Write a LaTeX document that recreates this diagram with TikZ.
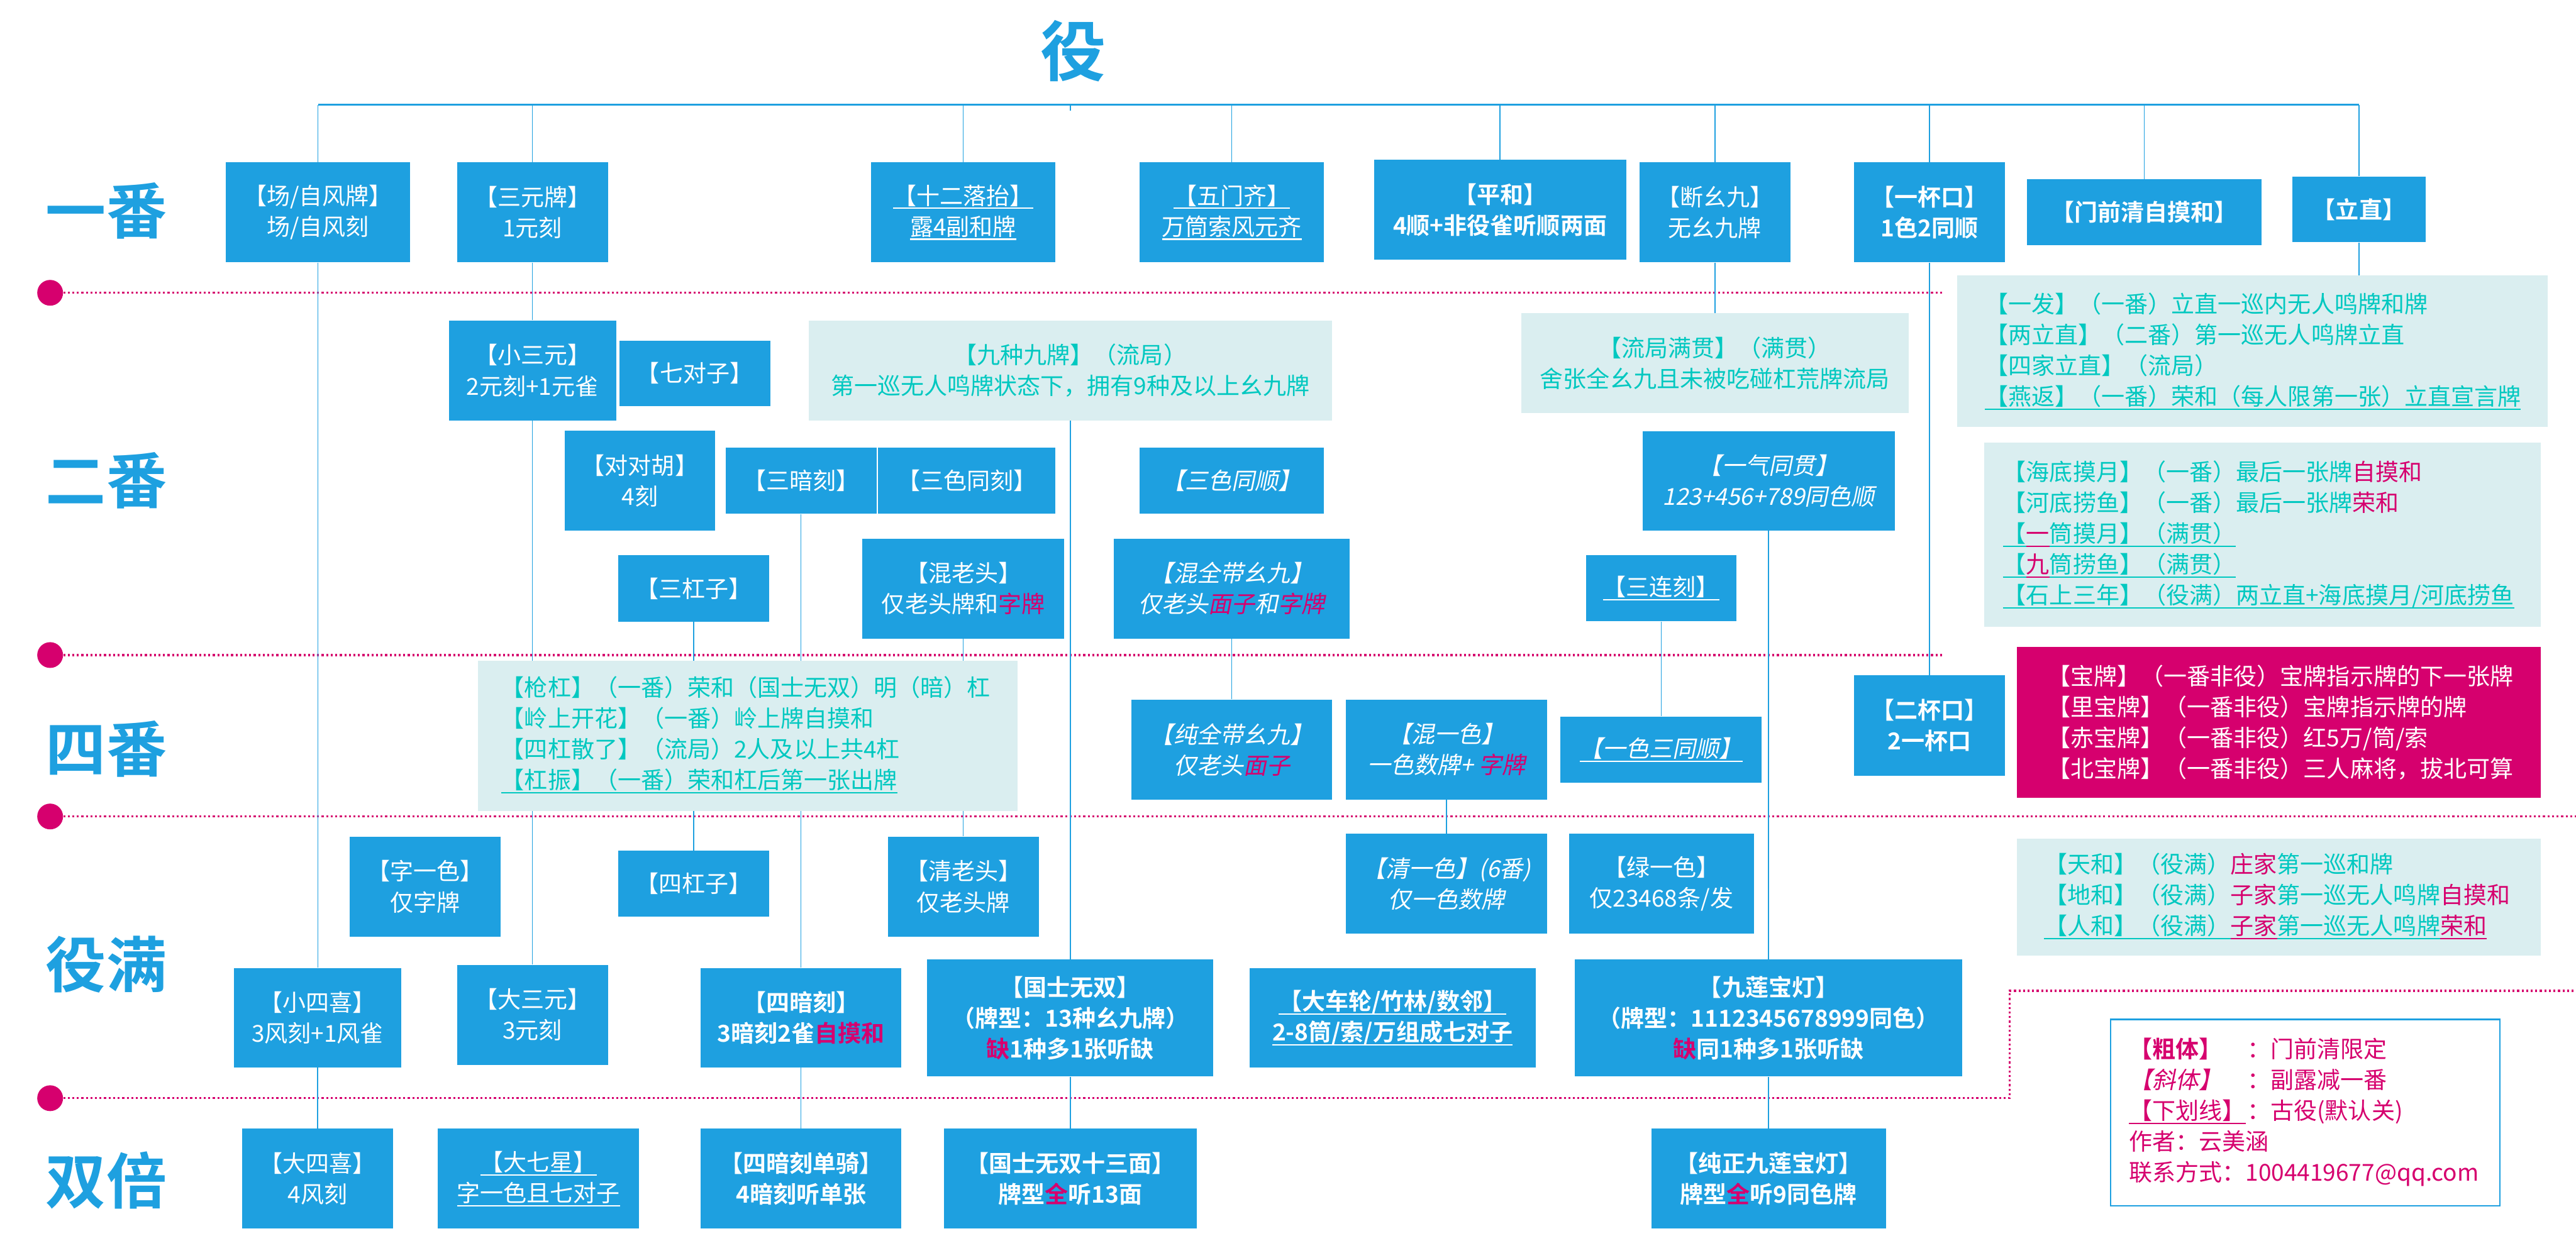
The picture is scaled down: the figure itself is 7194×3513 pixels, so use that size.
\documentclass[tikz,border=0pt]{standalone}
\usepackage{fontspec}
\setmainfont{Noto Sans CJK SC}[BoldFont={Noto Sans CJK SC Bold}, ItalicFont={Noto Sans CJK SC}, ItalicFeatures={FakeSlant=0.2}]
\usetikzlibrary{backgrounds}
\definecolor{ablue}{RGB}{30,160,224}
\definecolor{alight}{RGB}{218,238,240}
\definecolor{ateal}{RGB}{0,200,192}
\definecolor{amag}{RGB}{214,0,110}
\newcommand\fsz{\fontsize{18.5pt}{24.5pt}\selectfont}
\newcommand\mg[1]{\textcolor{amag}{#1}}
\newsavebox\ulbox
\newcommand\uln[1]{\sbox\ulbox{#1}\rlap{\rule[-0.2em]{\wd\ulbox}{0.055em}}\usebox\ulbox}
\begin{document}
\begin{tikzpicture}[x=0.01cm, y=-0.01cm,
    every node/.style={font=\fsz, inner sep=0pt},
    blk/.style={fill=ablue, text=white, align=center, minimum height=2.79cm},
    lowblk/.style={blk, minimum height=1.85cm},
    bblk/.style={blk, font=\fsz\bfseries},
    iblk/.style={blk, font=\fsz\itshape},
    lbox/.style={fill=alight},
    ltxt/.style={text=ateal, align=left, anchor=west},
    sep/.style={amag, dotted, line width=1.6pt},
    dotc/.style={circle, fill=amag, minimum size=0.72cm},
    link/.style={ablue, line width=0.8pt},
    rowlab/.style={text=ablue, font=\fontsize{48pt}{50pt}\selectfont\bfseries}]
    \useasboundingbox (0,0) rectangle (7194,3513);

    % 标题与番数
    \node[rowlab, font=\fontsize{52pt}{54pt}\selectfont\bfseries] (title) at (2997,143) {役};
    \node[rowlab] (r1) at (297,589) {一番};
    \node[rowlab] (r2) at (297,1342) {二番};
    \node[rowlab] (r4) at (297,2092) {四番};
    \node[rowlab] (ry) at (297,2695) {役满};
    \node[rowlab] (rs) at (297,3297) {双倍};

    \node[dotc] (d1) at (140,818) {};
    \node[dotc] (d2) at (140,1830) {};
    \node[dotc] (d3) at (140,2281) {};
    \node[dotc] (d4) at (140,3068) {};

    % 一番
    \node[blk, minimum width=5.14cm] (chang) at (888,593) {【场/自风牌】\\场/自风刻};
    \node[blk, minimum width=4.21cm] (sanyuan) at (1487,593) {【三元牌】\\1元刻};
    \node[blk, minimum width=5.15cm] (shier) at (2690,593) {\uln{【十二落抬】}\\\uln{露4副和牌}};
    \node[blk, minimum width=5.15cm] (wumen) at (3440,593) {\uln{【五门齐】}\\\uln{万筒索风元齐}};
    \node[bblk, minimum width=7.04cm] (pinghe) at (4189,586) {【平和】\\4顺+非役雀听顺两面};
    \node[blk, minimum width=4.22cm] (duanyao) at (4789,593) {【断幺九】\\无幺九牌};
    \node[bblk, minimum width=4.22cm] (yibei) at (5388,593) {【一杯口】\\1色2同顺};
    \node[bblk, minimum width=6.55cm, minimum height=1.84cm] (menqian) at (5988,593) {【门前清自摸和】};
    \node[bblk, minimum width=3.73cm, minimum height=1.84cm] (lizhi) at (6588,585) {【立直】};

    % 二番
    \node[blk, minimum width=4.67cm] (xsy) at (1487,1035) {【小三元】\\2元刻+1元雀};
    \node[lowblk, minimum width=4.21cm, minimum height=1.83cm] (qidui) at (1940,1043) {【七对子】};
    \node[lbox, text=ateal, align=center, minimum width=14.60cm, minimum height=2.79cm] (jiuzhong) at (2989,1035) {【九种九牌】（流局）\\第一巡无人鸣牌状态下，拥有9种及以上幺九牌};
    \node[lbox, text=ateal, align=center, minimum width=10.82cm, minimum height=2.78cm] (liuju) at (4789,1014) {【流局满贯】（满贯）\\舍张全幺九且未被吃碰杠荒牌流局};
    \node[blk, minimum width=4.20cm] (duidui) at (1787,1343) {【对对胡】\\4刻};
    \node[lowblk, minimum width=4.21cm] (sananke) at (2237,1343) {【三暗刻】};
    \node[lowblk, minimum width=4.95cm] (sanseke) at (2700,1343) {【三色同刻】};
    \node[iblk, minimum width=5.15cm, minimum height=1.85cm] (sanseshun) at (3440,1343) {【三色同顺】};
    \node[iblk, minimum width=7.04cm, minimum height=2.77cm] (yiqi) at (4939,1343) {【一气同贯】\\123+456+789同色顺};
    \node[lowblk, minimum width=4.21cm] (sangang) at (1937,1644) {【三杠子】};
    \node[blk, minimum width=5.63cm] (hunlao) at (2690,1644) {【混老头】\\仅老头牌和\mg{字牌}};
    \node[iblk, minimum width=6.57cm] (hunquan) at (3440,1644) {【混全带幺九】\\仅老头\mg{面子}和\mg{字牌}};
    \node[lowblk, minimum width=4.20cm] (sanlian) at (4639,1643) {\uln{【三连刻】}};
    \node[lbox, minimum width=16.49cm, minimum height=4.22cm] (yifa) at (6290,981) {};
    \node[ltxt] (yifat) at (5543,981) {【一发】（一番）立直一巡内无人鸣牌和牌\\【两立直】（二番）第一巡无人鸣牌立直\\【四家立直】（流局）\\\uln{【燕返】（一番）荣和（每人限第一张）立直宣言牌}};
    \node[lbox, minimum width=15.54cm, minimum height=5.14cm] (haidi) at (6318,1494) {};
    \node[ltxt] (haidit) at (5593,1494) {【海底摸月】（一番）最后一张牌\mg{自摸和}\\【河底捞鱼】（一番）最后一张牌\mg{荣和}\\\uln{【}\mg{\uln{一}}\uln{筒摸月】（满贯）}\\\uln{【}\mg{\uln{九}}\uln{筒捞鱼】（满贯）}\\\uln{【石上三年】（役满）两立直+海底摸月/河底捞鱼}};
    \node[bblk, minimum width=4.22cm, minimum height=2.80cm] (erbei) at (5388,2027) {【二杯口】\\2一杯口};
    \node[fill=amag, minimum width=14.61cm, minimum height=4.21cm] (baopai) at (6364,2018) {};
    \node[ltxt, text=white] (baopait) at (5717,2018) {【宝牌】（一番非役）宝牌指示牌的下一张牌\\【里宝牌】（一番非役）宝牌指示牌的牌\\【赤宝牌】（一番非役）红5万/筒/索\\【北宝牌】（一番非役）三人麻将，拔北可算};

    % 四番
    \node[lbox, minimum width=15.06cm, minimum height=4.20cm] (qianggang) at (2089,2056) {};
    \node[ltxt] (qianggangt) at (1399,2053) {【枪杠】（一番）荣和（国士无双）明（暗）杠\\【岭上开花】（一番）岭上牌自摸和\\【四杠散了】（流局）2人及以上共4杠\\\uln{【杠振】（一番）荣和杠后第一张出牌}};
    \node[iblk, minimum width=5.61cm] (chunquan) at (3440,2094) {【纯全带幺九】\\仅老头\mg{面子}};
    \node[iblk, minimum width=5.61cm] (hunyise) at (4040,2094) {【混一色】\\一色数牌+ \mg{字牌}};
    \node[iblk, minimum width=5.62cm, minimum height=1.85cm] (yisesan) at (4639,2094) {\uln{【一色三同顺】}};

    % 役满
    \node[blk, minimum width=4.21cm] (ziyise) at (1187,2477) {【字一色】\\仅字牌};
    \node[lowblk, minimum width=4.21cm] (sigang) at (1937,2469) {【四杠子】};
    \node[blk, minimum width=4.21cm] (qinglao) at (2690,2477) {【清老头】\\仅老头牌};
    \node[iblk, minimum width=5.61cm] (qingyise) at (4040,2469) {【清一色】(6番)\\仅一色数牌};
    \node[blk, minimum width=5.16cm] (lvyise) at (4640,2469) {【绿一色】\\仅23468条/发};
    \node[lbox, minimum width=14.61cm, minimum height=3.26cm] (tianhe) at (6364,2506) {};
    \node[ltxt] (tianhet) at (5708,2504) {【天和】（役满）\mg{庄家}第一巡和牌\\【地和】（役满）\mg{子家}第一巡无人鸣牌\mg{自摸和}\\\uln{【人和】（役满）}\mg{\uln{子家}}\uln{第一巡无人鸣牌}\mg{\uln{荣和}}};
    \node[blk, minimum width=4.66cm, minimum height=2.78cm] (xsx) at (887,2843) {【小四喜】\\3风刻+1风雀};
    \node[blk, minimum width=4.21cm] (dsy) at (1487,2835) {【大三元】\\3元刻};
    \node[bblk, minimum width=5.61cm, minimum height=2.78cm] (sianke) at (2237,2843) {【四暗刻】\\3暗刻2雀\mg{自摸和}};
    \node[bblk, minimum width=7.99cm, minimum height=3.26cm] (guoshi) at (2989,2844) {【国士无双】\\（牌型：13种幺九牌）\\\mg{缺}1种多1张听缺};
    \node[bblk, minimum width=7.99cm, minimum height=2.78cm] (dachelun) at (3889,2843) {\uln{【大车轮/竹林/数邻】}\\\uln{2-8筒/索/万组成七对子}};
    \node[bblk, minimum width=10.81cm, minimum height=3.26cm] (jiulian) at (4939,2844) {【九莲宝灯】\\（牌型：1112345678999同色）\\\mg{缺}同1种多1张听缺};

    % 双倍
    \node[blk, minimum width=4.21cm] (dsx) at (887,3293) {【大四喜】\\4风刻};
    \node[blk, minimum width=5.62cm] (dqx) at (1504,3293) {\uln{【大七星】}\\\uln{字一色且七对子}};
    \node[bblk, minimum width=5.61cm] (siandq) at (2237,3293) {【四暗刻单骑】\\4暗刻听单张};
    \node[bblk, minimum width=7.05cm] (shisan) at (2989,3293) {【国士无双十三面】\\牌型\mg{全}听13面};
    \node[bblk, minimum width=6.55cm] (chunzheng) at (4939,3293) {【纯正九莲宝灯】\\牌型\mg{全}听9同色牌};

    % 图例
    \node[draw=ablue, line width=1.2pt, fill=white, minimum width=10.87cm, minimum height=5.20cm] (legend) at (6438,3108) {};
    \node[ltxt, text=amag] (legendt) at (5945,3107) {\makebox[3.3cm][l]{\bfseries【粗体】}：门前清限定\\\makebox[3.3cm][l]{\itshape【斜体】}：副露减一番\\\makebox[3.3cm][l]{\uln{【下划线】}}：古役(默认关)\\作者：云美涵\\联系方式：1004419677@qq.com};

    \begin{scope}[on background layer]
        \draw[sep] (d1.east) -- (5427,818);
        \draw[sep] (d2.east) -- (5427,1830);
        \draw[sep] (d3.east) -- (7194,2281);
        \draw[sep] (d4.east) -- (5612,3068) -- (5612,2768) -- (7194,2768);

        \coordinate (tl) at (888,293);
        \coordinate (tr) at (6588,293);
        \draw[link, line width=1.4pt] (tl) -- (tr);
        \draw[link] (2989,293) -- (2989,309);
        \foreach \n in {chang,sanyuan,shier,wumen,pinghe,duanyao,yibei,menqian,lizhi}
            \draw[link] (\n.north) -- (\n.north |- tl);
        \foreach \a/\b in {chang/xsx, xsx/dsx, sanyuan/xsy, xsy/dsy, yibei/erbei, duanyao/liuju, lizhi/yifa, jiuzhong/guoshi, guoshi/shisan, sananke/sianke, sianke/siandq, sangang/sigang, hunlao/qinglao, hunquan/chunquan, sanlian/yisesan, yiqi/jiulian, jiulian/chunzheng, hunyise/qingyise}
            \draw[link] (\a.south) -- (\a.south |- \b.north);
    \end{scope}
\end{tikzpicture}
\end{document}
